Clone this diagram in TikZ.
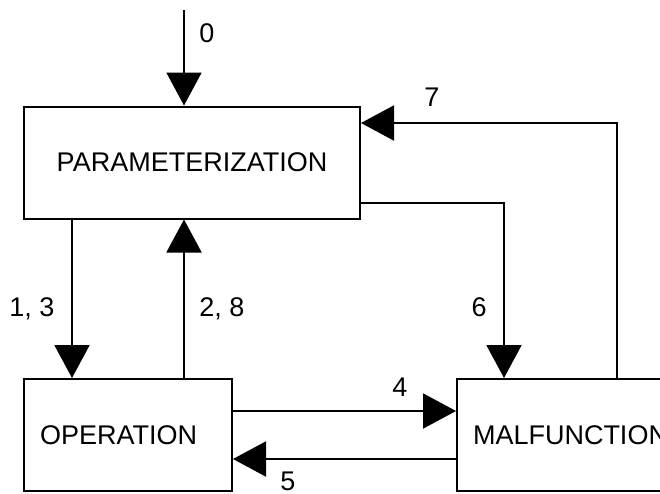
\documentclass[tikz,border=0pt]{standalone}
\usepackage{fontspec}
\setmainfont{Liberation Sans}
\usetikzlibrary{arrows.meta}
\begin{document}
\begin{tikzpicture}[x=1pt,y=-1pt,
  every node/.style={font=\fontsize{27}{32}\selectfont},
  box/.style={draw,line width=2pt,rectangle,inner ysep=0pt,minimum height=112pt},
  lbl/.style={inner sep=0pt,anchor=base},
  arr/.style={line width=2pt,-{Triangle[length=33pt,width=35pt]}},
  ln/.style={line width=2pt}]
\useasboundingbox (0,0) rectangle (660,493);
\clip (0,0) rectangle (660,493);
\fill[white] (0,0) rectangle (660,493);
% boxes
\node[box,minimum width=336pt,inner xsep=0pt] (param) at (192,162.5) {PARAMETERIZATION};
\node[box,text width=176pt,inner xsep=16pt,align=left] (op) at (128,435) {OPERATION};
\node[box,text width=208pt,inner xsep=16pt,align=left] (mal) at (577,435) {MALFUNCTION};
% helper coordinates
\coordinate (c0) at (184,10);
\coordinate (c13) at (72,0);
\coordinate (c28) at (184,0);
\coordinate (c6) at (504,203);
\coordinate (c7) at (617,123);
\coordinate (c4) at (0,411);
\coordinate (c5) at (0,459);
% connectors
\draw[arr] (c0) -- (c0 |- param.north);
\draw[arr] (param.south -| c13) -- (op.north -| c13);
\draw[arr] (op.north -| c28) -- (param.south -| c28);
\draw[arr] (param.east |- c6) -| (mal.north -| c6);
\draw[arr] (mal.north -| c7) |- (param.east |- c7);
\draw[arr] (op.east |- c4) -- (mal.west |- c4);
\draw[arr] (mal.west |- c5) -- (op.east |- c5);
% labels
\node[lbl] (l0) at (207,42) {0};
\node[lbl] (l7) at (432,106) {7};
\node[lbl] (l13) at (32,316) {1, 3};
\node[lbl] (l28) at (222,316) {2, 8};
\node[lbl] (l6) at (479,316) {6};
\node[lbl] (l4) at (400,396) {4};
\node[lbl] (l5) at (288,490) {5};
\end{tikzpicture}
\end{document}
